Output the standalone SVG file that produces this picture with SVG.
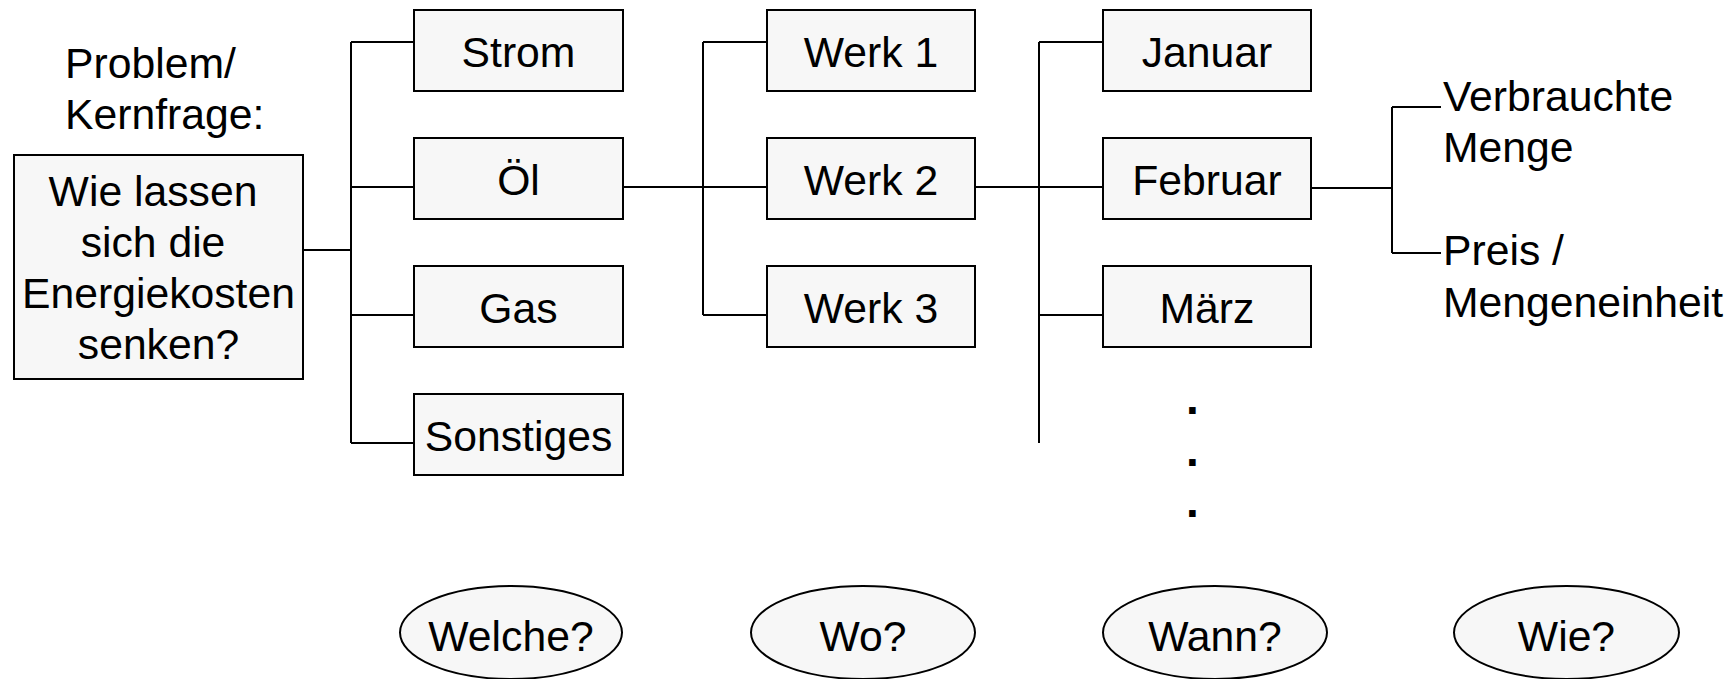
<svg xmlns="http://www.w3.org/2000/svg" width="1735" height="679" viewBox="0 0 1735 679">
  <style>
    .box { fill: #f7f7f7; stroke: #000; stroke-width: 2; }
    .oval { fill: #f7f7f7; stroke: #000; stroke-width: 2; }
    .lbl { font-family: "Liberation Sans", Arial, sans-serif; font-size: 42.7px; fill: #000; }
    .mid { text-anchor: middle; }
    .dot { font-family: "Liberation Sans", Arial, sans-serif; font-size: 46px; font-weight: bold; text-anchor: middle; fill: #000; }
    .wire { fill: none; stroke: #000; stroke-width: 2; }
  </style>
  <rect width="1735" height="679" fill="#fff"/>

  <!-- connectors -->
  <g id="connectors">
    <path class="wire" d="M303 250 H351 M351 42 V443 M351 42 H414 M351 187 H414 M351 315 H414 M351 443 H414"/>
    <path class="wire" d="M623 187 H767 M703 42 V315 M703 42 H767 M703 315 H767"/>
    <path class="wire" d="M975 187 H1103 M1039 42 V443 M1039 42 H1103 M1039 315 H1103"/>
    <path class="wire" d="M1311 188 H1392 M1392 107 V253 M1392 107 H1441 M1392 253 H1441"/>
  </g>

  <!-- problem statement -->
  <g id="kernfrage-label">
    <text class="lbl" x="65" y="78">Problem/</text>
    <text class="lbl" x="65" y="129">Kernfrage:</text>
  </g>
  <g id="kernfrage">
    <rect class="box" x="14" y="155" width="289" height="224"/>
    <text class="lbl mid" x="153" y="206">Wie lassen</text>
    <text class="lbl mid" x="153" y="257">sich die</text>
    <text class="lbl mid" x="158.5" y="308">Energiekosten</text>
    <text class="lbl mid" x="158.5" y="359">senken?</text>
  </g>

  <!-- energy sources -->
  <g id="strom"><rect class="box" x="414" y="10" width="209" height="81"/><text class="lbl mid" x="518.5" y="67">Strom</text></g>
  <g id="oel"><rect class="box" x="414" y="138" width="209" height="81"/><text class="lbl mid" x="518.5" y="195">Öl</text></g>
  <g id="gas"><rect class="box" x="414" y="266" width="209" height="81"/><text class="lbl mid" x="518.5" y="323">Gas</text></g>
  <g id="sonstiges"><rect class="box" x="414" y="394" width="209" height="81"/><text class="lbl mid" x="518.5" y="451">Sonstiges</text></g>

  <!-- plants -->
  <g id="werk1"><rect class="box" x="767" y="10" width="208" height="81"/><text class="lbl mid" x="871" y="67">Werk 1</text></g>
  <g id="werk2"><rect class="box" x="767" y="138" width="208" height="81"/><text class="lbl mid" x="871" y="195">Werk 2</text></g>
  <g id="werk3"><rect class="box" x="767" y="266" width="208" height="81"/><text class="lbl mid" x="871" y="323">Werk 3</text></g>

  <!-- months -->
  <g id="januar"><rect class="box" x="1103" y="10" width="208" height="81"/><text class="lbl mid" x="1207" y="67">Januar</text></g>
  <g id="februar"><rect class="box" x="1103" y="138" width="208" height="81"/><text class="lbl mid" x="1207" y="195">Februar</text></g>
  <g id="maerz"><rect class="box" x="1103" y="266" width="208" height="81"/><text class="lbl mid" x="1207" y="323">März</text></g>
  <g id="weitere">
    <text class="dot" x="1192.5" y="414">.</text>
    <text class="dot" x="1192.5" y="466">.</text>
    <text class="dot" x="1192.5" y="517">.</text>
  </g>

  <!-- factors -->
  <g id="menge">
    <text class="lbl" x="1443" y="111">Verbrauchte</text>
    <text class="lbl" x="1443" y="162">Menge</text>
  </g>
  <g id="preis">
    <text class="lbl" x="1443" y="265">Preis /</text>
    <text class="lbl" x="1443" y="317">Mengeneinheit</text>
  </g>

  <!-- question ovals -->
  <g id="welche"><ellipse class="oval" cx="511" cy="632.5" rx="111" ry="46.5"/><text class="lbl mid" x="511" y="651">Welche?</text></g>
  <g id="wo"><ellipse class="oval" cx="863" cy="632.5" rx="112" ry="46.5"/><text class="lbl mid" x="863" y="651">Wo?</text></g>
  <g id="wann"><ellipse class="oval" cx="1215" cy="632.5" rx="112" ry="46.5"/><text class="lbl mid" x="1215" y="651">Wann?</text></g>
  <g id="wie"><ellipse class="oval" cx="1566.5" cy="632.5" rx="112.5" ry="46.5"/><text class="lbl mid" x="1566.5" y="651">Wie?</text></g>
</svg>
